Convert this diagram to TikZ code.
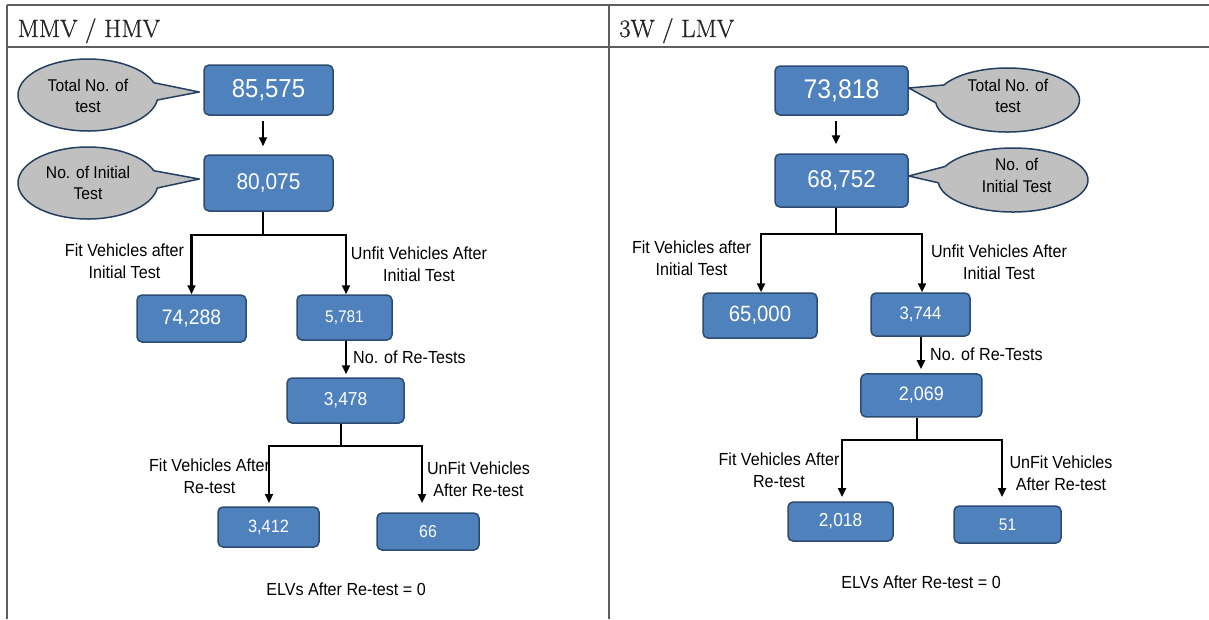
\documentclass[tikz,border=0pt]{standalone}
\usepackage{fontspec}
\setsansfont[FakeStretch=0.92]{Liberation Sans}
\newfontfamily\headfont[FakeBold=0.9]{Latin Modern Roman}
\usetikzlibrary{arrows.meta,calc}
\definecolor{boxblue}{HTML}{4F81BD}
\definecolor{boxline}{HTML}{2E4B72}
\definecolor{callgray}{HTML}{C0C0C0}
\definecolor{callline}{HTML}{243F60}
\definecolor{gridline}{HTML}{5E5E5E}
\tikzset{
  numbox/.style={draw=boxline, fill=boxblue, line width=1.5pt, rounded corners=5pt, text=white, inner sep=0pt},
  lbl/.style={align=center, inner sep=0pt, font=\sffamily\fontsize{17.5}{22}\selectfont},
  calltext/.style={align=center, inner sep=0pt, font=\sffamily\fontsize{17}{21.5}\selectfont},
  flow/.style={line width=2.2pt, -{Triangle[length=9pt,width=8pt]}},
  trunk/.style={line width=2.2pt},
  callout/.style={fill=callgray, draw=callline, line width=1.5pt, line join=round},
  grid/.style={draw=gridline, line width=1.5pt},
  head/.style={anchor=base west, inner sep=0pt, font=\headfont\fontsize{25}{30}\selectfont, text=black!85},
}
\newcommand{\numfont}[1]{\sffamily\fontsize{#1}{#1}\selectfont}
\begin{document}
\begin{tikzpicture}[x=1pt,y=-1pt]
\useasboundingbox (0,0) rectangle (1209,619);
% table
\draw[grid] (7,5) -- (1209,5);
\draw[grid] (7,47) -- (1209,47);
\draw[grid] (7,5) -- (7,619);
\draw[grid] (609,5) -- (609,619);
\node[head] (h1) at (17.5,37) {MMV / HMV};
\node[head] (h2) at (619,37) {3W / LMV};

% ---------------- left panel ----------------
\node[numbox, minimum width=129, minimum height=50, font=\numfont{26}] (b1) at (268.5,90) {85,575};
\node[numbox, minimum width=129, minimum height=56, font=\numfont{22.7}] (b2) at (268.5,183) {80,075};
\node[numbox, minimum width=109, minimum height=47, font=\numfont{21}] (b3) at (191.5,318.5) {74,288};
\node[numbox, minimum width=95, minimum height=45, font=\numfont{16.8}] (b4) at (344.5,317.5) {5,781};
\node[numbox, minimum width=117, minimum height=45, font=\numfont{18.8}] (b5) at (345.5,400.5) {3,478};
\node[numbox, minimum width=101, minimum height=40, font=\numfont{17.8}] (b6) at (268.5,527) {3,412};
\node[numbox, minimum width=102, minimum height=37, font=\numfont{17.3}] (b7) at (428,531.5) {66};

% callouts
\draw[callout] (88,95) ++(8:70 and 36) arc[start angle=8, end angle=340, x radius=70, y radius=36] -- ($(b1.west)+(-4,2)$) -- cycle;
\node[calltext] (t1) at (88,96) {Total No. of\\test};
\draw[callout] (88,183) ++(8:70 and 36) arc[start angle=8, end angle=340, x radius=70, y radius=36] -- ($(b2.west)+(-4,-4)$) -- cycle;
\node[calltext] (t2) at (88,183) {No. of Initial\\Test};

% connectors
\draw[flow] ($(b1.south)+(-5.5,5)$) -- ($(b2.north)+(-5.5,-8)$);
\coordinate (j1) at (263,235);
\draw[trunk] ($(b2.south)+(-5.5,0)$) -- (j1);
\draw[flow] (j1) -| (b3.north);
\draw[flow] (j1) -| ($(b4.north)+(1.5,0)$);
\draw[flow] ($(b4.south)+(1.5,0)$) -- ($(b5.north)+(0.5,-3)$);
\coordinate (j2) at (341,446);
\draw[trunk] ($(b5.south)+(-4.5,0)$) -- (j2);
\coordinate (e6) at (269,503);
\coordinate (e7) at (422,503);
\draw[flow] (j2) -| (e6);
\draw[flow] (j2) -| (e7);

\node[lbl] (l1) at (124.5,261) {Fit Vehicles after\\Initial Test};
\node[lbl] (l2) at (419,264) {Unfit Vehicles After\\Initial Test};
\node[lbl, anchor=west] (l3) at (353,357) {No. of Re-Tests};
\node[lbl] (l4) at (209.5,476) {Fit Vehicles After\\Re-test};
\node[lbl] (l5) at (478.5,479) {UnFit Vehicles\\After Re-test};
\node[lbl] (l6) at (346,589) {ELVs After Re-test = 0};

% ---------------- right panel ----------------
\node[numbox, minimum width=133, minimum height=49, font=\numfont{27}] (c1) at (841.5,90.5) {73,818};
\node[numbox, minimum width=133, minimum height=53, font=\numfont{24.3}] (c2) at (841.5,180.5) {68,752};
\node[numbox, minimum width=114, minimum height=45, font=\numfont{22.1}] (c3) at (760,315.5) {65,000};
\node[numbox, minimum width=99, minimum height=43, font=\numfont{18.1}] (c4) at (920.5,314.5) {3,744};
\node[numbox, minimum width=121, minimum height=43, font=\numfont{19.5}] (c5) at (921.4,395.4) {2,069};
\node[numbox, minimum width=105, minimum height=39, font=\numfont{18.8}] (c6) at (840.5,521.5) {2,018};
\node[numbox, minimum width=107, minimum height=37, font=\numfont{16.8}] (c7) at (1007.5,524.5) {51};

\draw[callout] (1007.5,100) ++(208:72 and 32) arc[start angle=208, end angle=535, x radius=72, y radius=32] -- ($(c1.east)+(0,-2.5)$) -- cycle;
\node[calltext] (t3) at (1008,96) {Total No. of\\test};
\draw[callout] (1013,180) ++(205:75 and 32) arc[start angle=205, end angle=535, x radius=75, y radius=32] -- ($(c2.east)+(0,-4.5)$) -- cycle;
\node[calltext] (t4) at (1016.7,175.5) {No. of\\Initial Test};

\draw[flow] ($(c1.south)+(-5.5,5)$) -- ($(c2.north)+(-5.5,-9)$);
\coordinate (k1) at (836,234);
\draw[trunk] ($(c2.south)+(-5.5,0)$) -- (k1);
\draw[flow] (k1) -| ($(c3.north)+(1,0)$);
\draw[flow] (k1) -| ($(c4.north)+(1.5,0)$);
\draw[flow] ($(c4.south)+(0.5,0)$) -- ($(c5.north)+(-0.4,-4)$);
\coordinate (k2) at (917,440);
\draw[trunk] ($(c5.south)+(-4.4,0)$) -- (k2);
\coordinate (f6) at (842,497);
\coordinate (f7) at (1002,497);
\draw[flow] (k2) -| (f6);
\draw[flow] (k2) -| (f7);

\node[lbl] (r1) at (691.5,258.5) {Fit Vehicles after\\Initial Test};
\node[lbl] (r2) at (999,262) {Unfit Vehicles After\\Initial Test};
\node[lbl, anchor=west] (r3) at (930,354) {No. of Re-Tests};
\node[lbl] (r4) at (779,470) {Fit Vehicles After\\Re-test};
\node[lbl] (r5) at (1061,473) {UnFit Vehicles\\After Re-test};
\node[lbl] (r6) at (921,582) {ELVs After Re-test = 0};
\end{tikzpicture}
\end{document}
